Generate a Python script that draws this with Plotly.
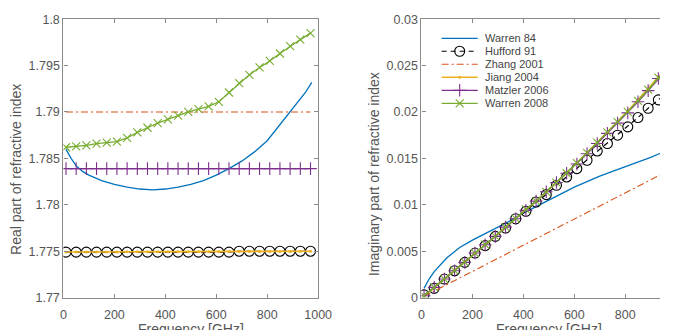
import plotly.graph_objects as go

# ---------------- data ----------------
freq_mk = [10, 50, 90, 130, 170, 210, 250, 290, 330, 370, 410, 450, 490,
           530, 570, 610, 650, 690, 730, 770, 810, 850, 890, 930, 970]
freq_w84 = [10, 30, 50, 75, 100, 150, 200, 250, 300, 350, 400, 450, 500,
            550, 600, 650, 700, 750, 800, 850, 900, 950, 975]

# real part
w84_re = [1.7860, 1.7850, 1.7842, 1.7836, 1.7832, 1.7826, 1.7822, 1.7819, 1.7817,
          1.7816, 1.7817, 1.7819, 1.7822, 1.7826, 1.7832, 1.7839, 1.7847, 1.7857,
          1.7869, 1.7886, 1.7903, 1.7921, 1.7932]
huf_re = [1.7749, 1.7749, 1.7749, 1.7749, 1.7749, 1.7749, 1.7749, 1.7749, 1.7749,
          1.7749, 1.7749, 1.7749, 1.7749, 1.7749, 1.7749, 1.7749, 1.7749, 1.7750,
          1.7750, 1.7750, 1.7750, 1.7750, 1.7750, 1.7750, 1.7750]
zh_re = [1.7900] * 25
ji_re = [1.77492, 1.77492, 1.77492, 1.77492, 1.77492, 1.77492, 1.77493, 1.77493,
         1.77493, 1.77494, 1.77494, 1.77494, 1.77494, 1.77495, 1.77495, 1.77495,
         1.77496, 1.77496, 1.77497, 1.77497, 1.77497, 1.77498, 1.77498, 1.77499, 1.77500]
ma_re = [1.7839] * 25
w08_re = [1.7862, 1.7863, 1.7864, 1.7866, 1.7867, 1.7868, 1.7872, 1.7878, 1.7883,
          1.7888, 1.7892, 1.7896, 1.7900, 1.7903, 1.7906, 1.7911, 1.7921, 1.7931,
          1.7940, 1.7948, 1.7955, 1.7963, 1.7971, 1.7978, 1.7985]

# imaginary part
w84_im = [0.0010, 0.0020, 0.0028, 0.0036, 0.0043, 0.0054, 0.0062, 0.0069, 0.0076,
          0.0083, 0.0091, 0.0098, 0.0105, 0.0112, 0.0119, 0.0125, 0.0131, 0.0136,
          0.0141, 0.0146, 0.0151, 0.0157, 0.0160]
huf_im = [0.0003, 0.0010, 0.0020, 0.0029, 0.0038, 0.0048, 0.0056, 0.0066, 0.0075,
          0.0085, 0.0093, 0.0103, 0.0111, 0.0121, 0.0130, 0.0139, 0.0148, 0.0158,
          0.0166, 0.0175, 0.0184, 0.0194, 0.0204, 0.0213, 0.0222]
zh_im = [0.00014, 0.00071, 0.00127, 0.00183, 0.00240, 0.00296, 0.00353, 0.00409,
         0.00465, 0.00522, 0.00578, 0.00635, 0.00691, 0.00747, 0.00804, 0.00860,
         0.00917, 0.00973, 0.01029, 0.01086, 0.01142, 0.01199, 0.01255, 0.01311, 0.01368]
ji_im = [0.0002, 0.0011, 0.0020, 0.0029, 0.0038, 0.0048, 0.0057, 0.0066, 0.0076,
         0.0085, 0.0095, 0.0104, 0.0114, 0.0124, 0.0134, 0.0145, 0.0156, 0.0167,
         0.0178, 0.0189, 0.0201, 0.0213, 0.0225, 0.0238, 0.0250]
ma_im = [0.0002, 0.0011, 0.0020, 0.0029, 0.0038, 0.0048, 0.0057, 0.0066, 0.0076,
         0.0085, 0.0094, 0.0104, 0.0114, 0.0124, 0.0134, 0.0144, 0.0155, 0.0166,
         0.0177, 0.0188, 0.0199, 0.0211, 0.0223, 0.0236, 0.0248]
w08_im = [0.0002, 0.0011, 0.0020, 0.0029, 0.0038, 0.0048, 0.0057, 0.0066, 0.0076,
          0.0085, 0.0095, 0.0104, 0.0114, 0.0124, 0.0134, 0.0145, 0.0156, 0.0167,
          0.0178, 0.0189, 0.0200, 0.0212, 0.0224, 0.0237, 0.0249]

names = ["Warren 84", "Hufford 91", "Zhang 2001", "Jiang 2004", "Matzler 2006", "Warren 2008"]
x_ticks = [0, 200, 400, 600, 800, 1000]
y1_ticks = [1.77, 1.775, 1.78, 1.785, 1.79, 1.795, 1.8]
y1_labels = ["1.77", "1.775", "1.78", "1.785", "1.79", "1.795", "1.8"]
y2_ticks = [0, 0.005, 0.01, 0.015, 0.02, 0.025, 0.03]
y2_labels = ["0", "0.005", "0.01", "0.015", "0.02", "0.025", "0.03"]

# ---------------- style ----------------
BLUE, ORANGE, YELLOW, PURPLE, GREEN = "#0072BD", "#D95319", "#EDB120", "#7E2F8E", "#77AC30"
FONT = "Liberation Sans, Arial, sans-serif"
W, H = 674, 330

styles = [
    dict(mode="lines", line=dict(color=BLUE, width=1.3)),
    dict(mode="lines+markers", line=dict(color="black", width=1.1, dash="5px,4px"),
         marker=dict(symbol="circle-open", size=10, color="black",
                     line=dict(width=1.1, color="black"))),
    dict(mode="lines", line=dict(color=ORANGE, width=1.1, dash="7px,3px,2px,3px")),
    dict(mode="lines+markers", line=dict(color=YELLOW, width=1.6),
         marker=dict(symbol="circle", size=3, color=YELLOW)),
    dict(mode="lines+markers", line=dict(color=PURPLE, width=1.3),
         marker=dict(symbol="cross-thin", size=9, color=PURPLE,
                     line=dict(width=1.1, color=PURPLE))),
    dict(mode="lines+markers", line=dict(color=GREEN, width=1.3),
         marker=dict(symbol="x-thin", size=8, color=GREEN,
                     line=dict(width=1.1, color=GREEN))),
]

fig = go.Figure()


def add_set(xa, ya, series):
    for i, (xs, ys) in enumerate(series):
        fig.add_trace(go.Scatter(x=xs, y=ys, name=names[i], xaxis=xa, yaxis=ya,
                                 showlegend=False, **styles[i]))


add_set("x", "y", [(freq_w84, w84_re), (freq_mk, huf_re), (freq_mk, zh_re),
                   (freq_mk, ji_re), (freq_mk, ma_re), (freq_mk, w08_re)])
add_set("x2", "y2", [(freq_w84, w84_im), (freq_mk, huf_im), (freq_mk, zh_im),
                     (freq_mk, ji_im), (freq_mk, ma_im), (freq_mk, w08_im)])

# legend drawn on a hidden pixel-coordinate overlay axis
leg_rows = [32.7, 46.2, 59.8, 73.4, 87.0, 100.6]
leg_x0, leg_x1, leg_txt = 450, 487, 492
for i, ry in enumerate(leg_rows):
    st = styles[i]
    fig.add_trace(go.Scatter(x=[leg_x0, leg_x1], y=[ry, ry], mode="lines", line=st["line"],
                             xaxis="x3", yaxis="y3", showlegend=False, hoverinfo="skip"))
    if "marker" in st:
        fig.add_trace(go.Scatter(x=[(leg_x0 + leg_x1) / 2], y=[ry], mode="markers",
                                 marker=st["marker"], xaxis="x3", yaxis="y3",
                                 showlegend=False, hoverinfo="skip"))
    fig.add_annotation(text=names[i], xref="x3", yref="y3", x=leg_txt, y=ry,
                       xanchor="left", yanchor="middle", showarrow=False,
                       font=dict(family=FONT, size=11, color="#444444"))

ybot, ytop = 303.5, 12.7
ydom = [1 - ybot / H, 1 - ytop / H]
x1dom = [62 / W, 323.3 / W]
x2dom = [429.3 / W, 1.0]
px_per_unit = (323.3 - 62) / 1000.0
x2max = (W - 429.3) / px_per_unit

axis_common = dict(showgrid=False, zeroline=False, showline=True, linecolor="#8a8a8a",
                   linewidth=1.2, ticks="inside", ticklen=4, tickcolor="#8a8a8a",
                   tickwidth=1.2, tickfont=dict(family=FONT, size=12.5, color="#555555"))

fig.update_layout(
    width=W, height=H, margin=dict(l=0, r=0, t=0, b=0),
    plot_bgcolor="rgba(0,0,0,0)", paper_bgcolor="white",
    font=dict(family=FONT, color="#555555"),
    xaxis=dict(domain=x1dom, range=[0, 1000], tickvals=x_ticks, mirror="allticks",
               anchor="y", ticklabelstandoff=5, **axis_common),
    yaxis=dict(domain=ydom, range=[1.77, 1.8], tickvals=y1_ticks, ticktext=y1_labels,
               mirror="allticks", anchor="x", **axis_common),
    xaxis2=dict(domain=x2dom, range=[0, x2max], tickvals=x_ticks, mirror="allticks",
                anchor="y2", ticklabelstandoff=5, **axis_common),
    yaxis2=dict(domain=ydom, range=[0, 0.03], tickvals=y2_ticks, ticktext=y2_labels,
                mirror=False, anchor="x2", **axis_common),
    xaxis3=dict(domain=[0, 1], range=[0, W], visible=False, anchor="y3", fixedrange=True),
    yaxis3=dict(domain=[0, 1], range=[H, 0], visible=False, anchor="x3", fixedrange=True),
    showlegend=False,
)

title_font = dict(family=FONT, size=14, color="#555555")
fig.add_annotation(text="Frequency [GHz]", xref="paper", yref="paper",
                   x=(62 + 323.3) / 2 / W, y=1 - 326 / H, xanchor="center", yanchor="top",
                   showarrow=False, font=title_font)
fig.add_annotation(text="Frequency [GHz]", xref="paper", yref="paper",
                   x=(429.3 + 429.3 + 1000 * px_per_unit) / 2 / W, y=1 - 326 / H,
                   xanchor="center", yanchor="top", showarrow=False, font=title_font)
fig.add_annotation(text="Real part of refractive index", xref="paper", yref="paper",
                   x=13.5 / W, y=1 - 170 / H, xanchor="center", yanchor="middle",
                   textangle=-90, showarrow=False, font=title_font)
fig.add_annotation(text="Imaginary part of refractive index", xref="paper", yref="paper",
                   x=380 / W, y=1 - 174 / H, xanchor="center", yanchor="middle",
                   textangle=-90, showarrow=False, font=title_font)

fig.write_html("out.html")
